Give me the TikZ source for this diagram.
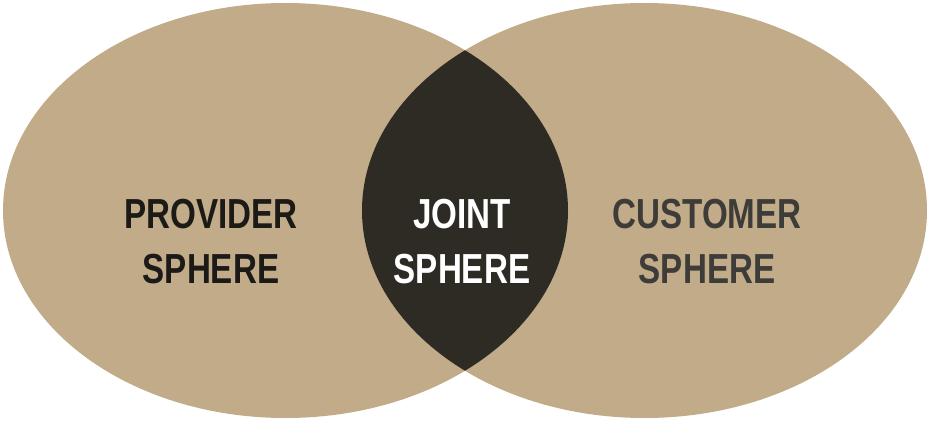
\documentclass[tikz,border=0pt]{standalone}
\usepackage{fontspec}
\setmainfont{Liberation Sans}[FakeStretch=0.79]
\usetikzlibrary{shapes.geometric}
\definecolor{tan}{HTML}{C1AB88}
\definecolor{darklens}{HTML}{2E2A24}
\definecolor{txtdark}{HTML}{1C1A17}
\definecolor{txtgray}{HTML}{3E3C39}
\begin{document}
\begin{tikzpicture}[x=1pt,y=-1pt,
  sphere/.style={ellipse, fill=tan, inner sep=0pt, minimum width=565pt, minimum height=415pt},
  label/.style={align=center, inner sep=0pt, font=\bfseries\fontsize{42}{55}\selectfont}]
\useasboundingbox (0,0) rectangle (931,422);
\node[sphere] (L) at (285.5,210.5) {};
\node[sphere] (R) at (644.5,210.5) {};
\begin{scope}
  \clip (285.5,210.5) ellipse [x radius=282.5, y radius=207.5];
  \fill[darklens] (644.5,210.5) ellipse [x radius=282.5, y radius=207.5];
\end{scope}
\node[label, text=txtdark, anchor=base] (pt) at (211,283) {PROVIDER\\SPHERE};
\node[label, text=white, anchor=base] (jt) at (462,283) {JOINT\\SPHERE};
\node[label, text=txtgray, anchor=base] (ct) at (707,283) {CUSTOMER\\SPHERE};
\end{tikzpicture}
\end{document}
